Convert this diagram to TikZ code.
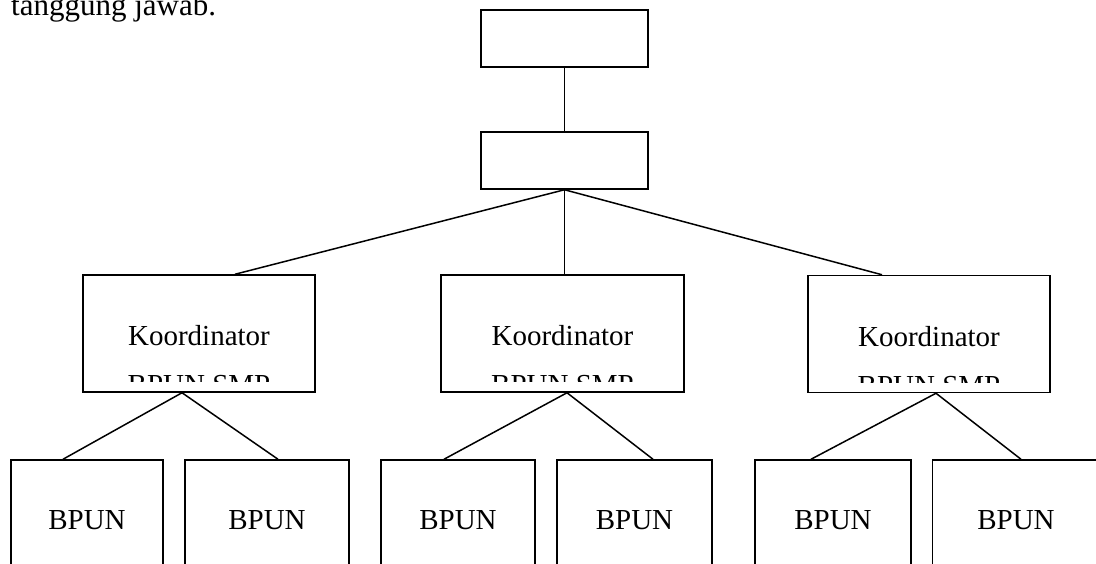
\documentclass[tikz,border=0pt]{standalone}
\usepackage{fontspec}
\setmainfont{Liberation Serif}
\usepackage{tikz}
\usetikzlibrary{positioning, calc}

\begin{document}
\begin{tikzpicture}[
    x=1pt, y=-1pt,
    box/.style={rectangle, draw, line width=1.5pt, minimum height=57pt, minimum width=167pt, inner sep=0pt},
    koord/.style={rectangle, draw, line width=1.5pt, minimum height=117pt, inner sep=0pt},
    unit/.style={rectangle, draw, line width=1.5pt, minimum height=120pt, inner sep=0pt, font=\fontsize{29pt}{34pt}\selectfont},
    lbl/.style={anchor=base, inner sep=0pt, font=\fontsize{29pt}{34pt}\selectfont},
    conn/.style={line width=1.5pt}
]
\useasboundingbox (0,0) rectangle (1096,563);
\clip (0,0) rectangle (1096,563);

% Text above
\node[anchor=base west, inner sep=0pt, font=\fontsize{31pt}{36pt}\selectfont] (caption) at (11,15) {tanggung jawab.};

% Top levels
\node[box] (top) at (564.5, 38.5) {};
\node[box] (mid) at (564.5, 160.5) {};

% Koordinator
\node[koord, minimum width=232pt] (k1) at (199, 333.5) {};
\node[koord, minimum width=243pt] (k2) at (562.5, 333.5) {};
\node[koord, minimum width=242pt] (k3) at (929, 334) {};

\begin{scope}
\clip (k1.north west) rectangle ([yshift=11pt]k1.south east);
\node[lbl] (k1a) at (199, 345) {Koordinator};
\node[lbl] (k1b) at (199, 394) {BPUN SMP};
\end{scope}
\begin{scope}
\clip (k2.north west) rectangle ([yshift=11pt]k2.south east);
\node[lbl] (k2a) at (562.5, 345) {Koordinator};
\node[lbl] (k2b) at (562.5, 394) {BPUN SMP};
\end{scope}
\begin{scope}
\clip (k3.north west) rectangle ([yshift=11pt]k3.south east);
\node[lbl] (k3a) at (929, 346) {Koordinator};
\node[lbl] (k3b) at (929, 395) {BPUN SMP};
\end{scope}

% BPUN
\node[unit, minimum width=152pt] (b1) at (87, 520) {BPUN};
\node[unit, minimum width=164pt] (b2) at (267, 520) {BPUN};
\node[unit, minimum width=154pt] (b3) at (458, 520) {BPUN};
\node[unit, minimum width=155pt] (b4) at (634.5, 520) {BPUN};
\node[unit, minimum width=156pt] (b5) at (833, 520) {BPUN};
\node[unit, minimum width=167pt] (b6) at (1016, 520) {BPUN};

% Lines
\draw[conn] (top) -- (mid);
\draw[conn] (mid.south) -- ([xshift=36pt]k1.north);
\draw[conn] (mid.south) -- ([xshift=2pt]k2.north);
\draw[conn] (mid.south) -- ([xshift=-47pt]k3.north);

\draw[conn] ([xshift=-17pt]k1.south) -- ([xshift=-24pt]b1.north);
\draw[conn] ([xshift=-17pt]k1.south) -- ([xshift=11pt]b2.north);
\draw[conn] ([xshift=4.5pt]k2.south) -- ([xshift=-14pt]b3.north);
\draw[conn] ([xshift=4.5pt]k2.south) -- ([xshift=18.5pt]b4.north);
\draw[conn] ([xshift=7pt]k3.south) -- ([xshift=-22pt]b5.north);
\draw[conn] ([xshift=7pt]k3.south) -- ([xshift=5pt]b6.north);
\end{tikzpicture}
\end{document}
